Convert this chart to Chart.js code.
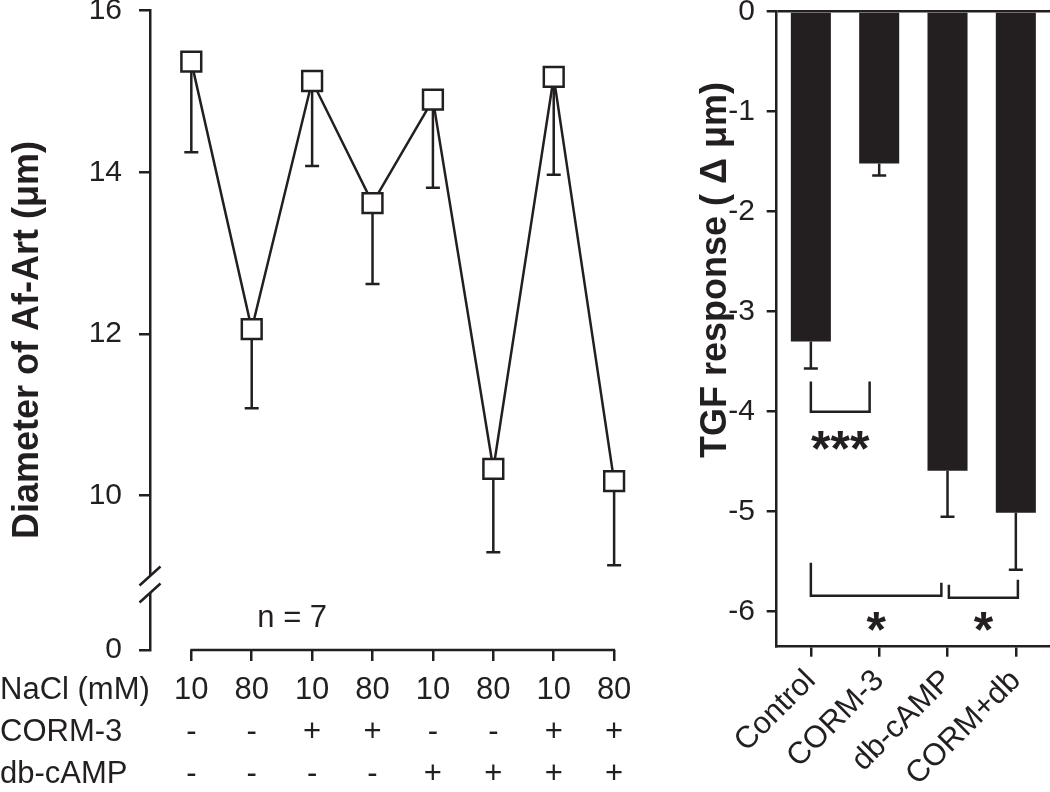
<!DOCTYPE html>
<html>
<head>
<meta charset="utf-8">
<script src="https://cdn.jsdelivr.net/npm/chart.js@4.4.1/dist/chart.umd.min.js"></script>
<style>
  html, body { margin: 0; padding: 0; background: #fff; }
  #wrap { position: relative; width: 1050px; height: 792px; overflow: hidden; }
  #diam { position: absolute; left: 0; top: 0; }
  #tgf { position: absolute; left: 650px; top: 0; }
</style>
</head>
<body>
<div id="wrap">
  <canvas id="diam" width="650" height="792"></canvas>
  <canvas id="tgf" width="400" height="792"></canvas>
</div>
<script>
// left panel: afferent arteriole diameter
const nacl = ['10', '80', '10', '80', '10', '80', '10', '80'];
const corm = ['-', '-', '+', '+', '-', '-', '+', '+'];
const dbcamp = ['-', '-', '-', '-', '+', '+', '+', '+'];
const rowNames = ['NaCl (mM)', 'CORM-3', 'db-cAMP'];
const diameter = [15.37, 12.06, 15.13, 13.62, 14.90, 10.33, 15.18, 10.18];
const diameterSE = [1.12, 0.98, 1.05, 1.00, 1.09, 1.03, 1.21, 1.04];
const leftTicks = [10, 12, 14, 16];
const breakLabel = '0';
const breakAt = 8.09;   // where the "0" sits below the axis break
const nLabel = 'n = 7';

// right panel: TGF response
const groups = ['Control', 'CORM-3', 'db-cAMP', 'CORM+db'];
const tgf = [-3.30, -1.52, -4.59, -5.01];
const tgfSE = [0.27, 0.12, 0.46, 0.57];
const rightTicks = [0, -1, -2, -3, -4, -5, -6];
const brackets = [
  { from: 0, to: 0.86, leftTop: -3.70, rightTop: -3.70, base: -4.00, label: '***', labelY: -4.25 },
  { from: 0, to: 1.91, leftTop: -5.51, rightTop: -5.71, base: -5.84, label: '*', labelY: -6.06 },
  { from: 2.02, to: 3.03, leftTop: -5.73, rightTop: -5.68, base: -5.86, label: '*', labelY: -6.06 }
];

const ink = '#231f20';
const font = "'Liberation Sans', Arial, Helvetica, sans-serif";
const lw = 2.5;

Chart.defaults.font.family = font;
Chart.defaults.color = ink;

function vTitle(ctx, text, cx, cy, size) {
  ctx.save();
  ctx.translate(cx, cy);
  ctx.rotate(-Math.PI / 2);
  ctx.font = 'bold ' + size + 'px ' + font;
  ctx.fillStyle = ink;
  ctx.textAlign = 'center';
  ctx.textBaseline = 'middle';
  ctx.fillText(text, 0, 0);
  ctx.restore();
}

// fixed axis width, no extra room above/below for end labels
const fitY = w => s => { s.width = w; s.paddingTop = 0; s.paddingBottom = 0; };

const leftExtras = {
  id: 'leftExtras',
  beforeDatasetsDraw(chart) {
    const { ctx, scales: { x, y } } = chart;
    ctx.save();
    ctx.strokeStyle = ink;
    ctx.lineWidth = lw;
    diameter.forEach((v, i) => {
      const px = x.getPixelForValue(i);
      const bot = y.getPixelForValue(v - diameterSE[i]);
      ctx.beginPath();
      ctx.moveTo(px, y.getPixelForValue(v));
      ctx.lineTo(px, bot);
      ctx.moveTo(px - 7, bot);
      ctx.lineTo(px + 7, bot);
      ctx.stroke();
    });
    ctx.restore();
  },
  afterDraw(chart) {
    const { ctx, scales: { x, y } } = chart;
    ctx.save();
    ctx.strokeStyle = ink;
    ctx.lineWidth = lw;
    // x baseline only spans the categories
    ctx.beginPath();
    ctx.moveTo(x.getPixelForValue(0) - 1, x.top);
    ctx.lineTo(x.getPixelForValue(nacl.length - 1) + 1, x.top);
    ctx.stroke();

    // axis break
    const ax = y.right;
    const by = y.getPixelForValue(8.9);
    ctx.fillStyle = '#fff';
    ctx.fillRect(ax - 4, by - 8.5, 8, 17);
    ctx.beginPath();
    ctx.moveTo(ax - 10.5, by + 1); ctx.lineTo(ax + 10.5, by - 18);
    ctx.moveTo(ax - 10.5, by + 18); ctx.lineTo(ax + 10.5, by - 1);
    ctx.stroke();

    // n = 7
    ctx.fillStyle = ink;
    ctx.font = '31px ' + font;
    ctx.textAlign = 'center';
    ctx.textBaseline = 'middle';
    ctx.fillText(nLabel, x.getPixelForValue(1.67), y.getPixelForValue(8.48));

    // row names of the condition table
    const o = x.options;
    const lh = o.ticks.font.size * o.ticks.font.lineHeight;
    const y0 = x.top + o.grid.tickLength + o.ticks.padding + lh / 2;
    ctx.font = o.ticks.font.size + 'px ' + font;
    ctx.textAlign = 'left';
    rowNames.forEach((t, i) => ctx.fillText(t, 0, y0 + i * lh));
    ctx.restore();

    vTitle(ctx, 'Diameter of Af-Art (\u03bcm)', 28, 340, 36);
  }
};

new Chart(document.getElementById('diam'), {
  type: 'line',
  data: {
    datasets: [{
      data: diameter.map((v, i) => ({ x: i, y: v })),
      borderColor: ink,
      borderWidth: lw,
      tension: 0,
      pointStyle: 'rect',
      pointRadius: 14,
      pointHoverRadius: 14,
      pointBorderWidth: lw,
      pointBackgroundColor: '#fff',
      pointBorderColor: ink
    }]
  },
  options: {
    responsive: false,
    animation: false,
    events: [],
    layout: { autoPadding: false, padding: { top: 10.7, right: 0, left: 0, bottom: 0 } },
    plugins: { legend: { display: false }, tooltip: { enabled: false } },
    scales: {
      x: {
        type: 'linear',
        min: -0.684,
        max: 7.594,
        afterBuildTicks: s => { s.ticks = nacl.map((_, i) => ({ value: i })); },
        afterFit: s => { s.height = 142; },
        border: { display: false },
        grid: { drawOnChartArea: false, drawTicks: true, tickLength: 11, tickColor: ink, lineWidth: lw },
        ticks: {
          autoSkip: false,
          maxRotation: 0,
          padding: 8,
          font: { size: 31, lineHeight: 1.355 },
          color: ink,
          callback: v => [nacl[v], corm[v], dbcamp[v]]
        }
      },
      y: {
        min: breakAt,
        max: 16,
        afterBuildTicks: s => { s.ticks = [breakAt].concat(leftTicks).map(v => ({ value: v })); },
        afterFit: fitY(150),
        border: { color: ink, width: lw },
        grid: { drawOnChartArea: false, tickLength: 11, tickColor: ink, lineWidth: lw },
        ticks: {
          autoSkip: false,
          padding: 17,
          font: { size: 30 },
          color: ink,
          callback: v => (v === breakAt ? breakLabel : String(v))
        }
      }
    }
  },
  plugins: [leftExtras]
});

const rightExtras = {
  id: 'rightExtras',
  afterDatasetsDraw(chart) {
    const { ctx, scales: { x, y } } = chart;
    ctx.save();
    ctx.strokeStyle = ink;
    ctx.lineWidth = lw;
    tgf.forEach((v, i) => {
      const px = x.getPixelForValue(i);
      const bot = y.getPixelForValue(v - tgfSE[i]);
      ctx.beginPath();
      ctx.moveTo(px, y.getPixelForValue(v));
      ctx.lineTo(px, bot);
      ctx.moveTo(px - 7, bot);
      ctx.lineTo(px + 7, bot);
      ctx.stroke();
    });
    ctx.restore();
  },
  afterDraw(chart) {
    const { ctx, scales: { x, y } } = chart;
    ctx.save();
    ctx.strokeStyle = ink;
    ctx.fillStyle = ink;
    ctx.lineWidth = lw;
    brackets.forEach(b => {
      const x1 = x.getPixelForValue(b.from);
      const x2 = x.getPixelForValue(b.to);
      const yb = y.getPixelForValue(b.base);
      ctx.beginPath();
      ctx.moveTo(x1, y.getPixelForValue(b.leftTop));
      ctx.lineTo(x1, yb);
      ctx.lineTo(x2, yb);
      ctx.lineTo(x2, y.getPixelForValue(b.rightTop));
      ctx.stroke();
      ctx.font = 'bold 50px ' + font;
      ctx.textAlign = 'center';
      ctx.textBaseline = 'alphabetic';
      ctx.fillText(b.label, (x1 + x2) / 2, y.getPixelForValue(b.labelY) + 29);
    });
    ctx.restore();

    vTitle(ctx, 'TGF response ( \u0394 \u03bcm)', 66, 270, 36);
  }
};

new Chart(document.getElementById('tgf'), {
  type: 'bar',
  data: {
    labels: groups,
    datasets: [{
      data: tgf,
      backgroundColor: ink,
      borderWidth: 0,
      categoryPercentage: 1,
      barPercentage: 0.586
    }]
  },
  options: {
    responsive: false,
    animation: false,
    events: [],
    layout: { autoPadding: false, padding: { top: 11.5, right: 0, left: 0, bottom: 0 } },
    plugins: { legend: { display: false }, tooltip: { enabled: false } },
    scales: {
      x: {
        afterFit: s => { s.height = 145.3; },
        border: { color: ink, width: lw },
        grid: { drawOnChartArea: false, offset: false, tickLength: 10, tickColor: ink, lineWidth: lw },
        ticks: {
          autoSkip: false,
          minRotation: 45,
          maxRotation: 45,
          padding: 6,
          font: { size: 31 },
          color: ink
        }
      },
      y: {
        min: -6.35,
        max: 0,
        afterBuildTicks: s => { s.ticks = rightTicks.map(v => ({ value: v })); },
        afterFit: fitY(126.7),
        border: { color: ink, width: lw },
        grid: {
          drawOnChartArea: true,
          tickLength: 10,
          tickColor: ink,
          lineWidth: lw,
          color: c => (c.tick && c.tick.value === 0 ? ink : 'rgba(0,0,0,0)')
        },
        ticks: {
          autoSkip: false,
          padding: 11.7,
          font: { size: 30 },
          color: ink
        }
      }
    }
  },
  plugins: [rightExtras]
});
</script>
</body>
</html>
